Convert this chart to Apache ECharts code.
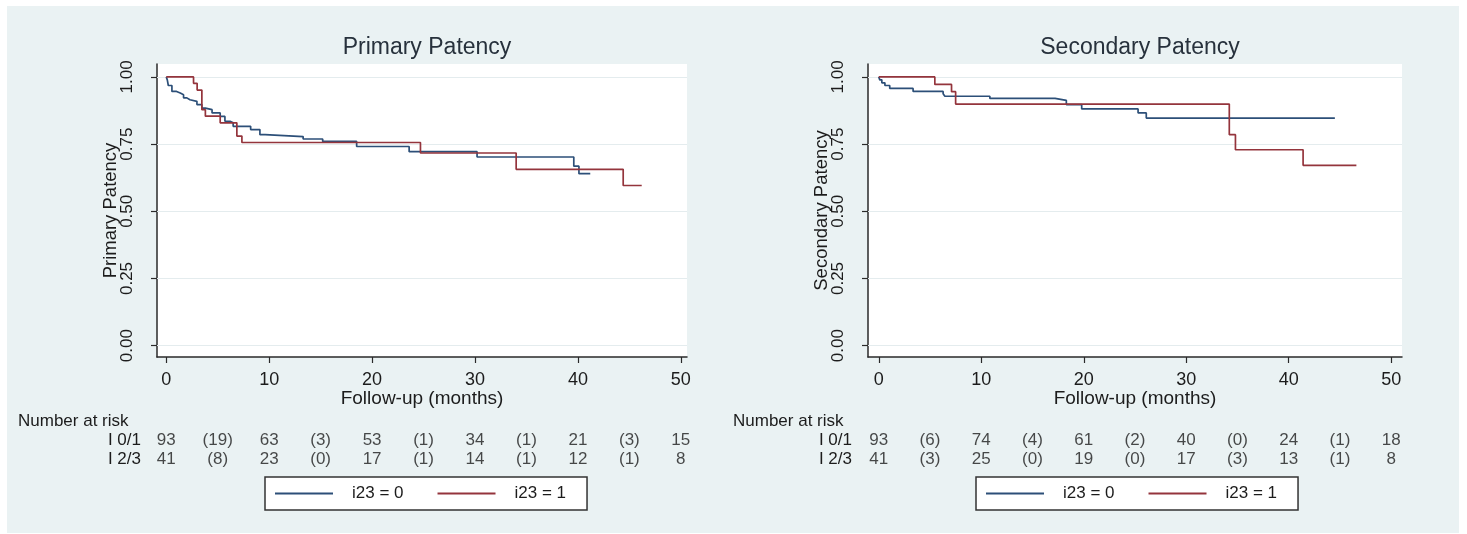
<!DOCTYPE html>
<html>
<head>
<meta charset="utf-8">
<script src="https://cdn.jsdelivr.net/npm/echarts@6/dist/echarts.min.js"></script>
<style>
  html, body { margin: 0; padding: 0; background: #ffffff; }
  #wrap { position: relative; width: 1467px; height: 534px; background: #ffffff; }
  #panel { position: absolute; left: 7px; top: 6px; width: 1452px; height: 527px; background: #eaf2f3; }
  #chart { position: absolute; left: 0; top: 0; width: 1467px; height: 534px; }
</style>
</head>
<body>
<div id="wrap">
  <div id="panel"></div>
  <div id="chart"></div>
</div>
<script>
// Kaplan–Meier estimates: [months, survival] at each event time, last point = end of follow-up
const primaryGroup0 = [[0,1],[0.1,0.989],[0.2,0.968],[0.55,0.946],[1.0,0.940],[1.36,0.934],[1.68,0.922],[2.0,0.915],[2.3,0.909],[2.98,0.897],[3.46,0.884],[3.8,0.878],[4.45,0.866],[5.24,0.853],[5.7,0.835],[6.2,0.829],[6.5,0.816],[8.2,0.804],[9.1,0.785],[9.6,0.778],[13.3,0.769],[15.2,0.760],[18.5,0.741],[23.6,0.722],[30.2,0.702],[39.6,0.668],[40.1,0.640],[41.2,0.640]];
const primaryGroup1 = [[0,1],[2.65,0.976],[3.0,0.951],[3.46,0.878],[3.8,0.854],[5.24,0.829],[6.86,0.780],[7.35,0.756],[24.7,0.717],[34.0,0.656],[44.4,0.596],[46.2,0.596]];
const secondaryGroup0 = [[0,1],[0.1,0.989],[0.3,0.978],[0.6,0.968],[1.07,0.957],[3.35,0.946],[6.28,0.937],[6.45,0.928],[10.84,0.920],[17.2,0.913],[18.3,0.897],[19.8,0.881],[25.3,0.866],[26.1,0.847],[44.5,0.847]];
const secondaryGroup1 = [[0,1],[5.47,0.972],[7.1,0.945],[7.5,0.899],[34.2,0.785],[34.8,0.729],[41.4,0.671],[46.6,0.671]];

// Number-at-risk table (counts at 0,10,...,50; censored in brackets between)
const riskTimes = [0, 10, 20, 30, 40, 50];
const censorTimes = [5, 15, 25, 35, 45];
const rowLabels = ['I 0/1', 'I 2/3'];
const primaryAtRisk0 = [93, 63, 53, 34, 21, 15];
const primaryCens0 = [19, 3, 1, 1, 3];
const primaryAtRisk1 = [41, 23, 17, 14, 12, 8];
const primaryCens1 = [8, 0, 1, 1, 1];
const secondaryAtRisk0 = [93, 74, 61, 40, 24, 18];
const secondaryCens0 = [6, 4, 2, 0, 1];
const secondaryAtRisk1 = [41, 25, 19, 17, 13, 8];
const secondaryCens1 = [3, 0, 0, 3, 1];

// Axis ticks
const xTicks = [0, 10, 20, 30, 40, 50];
const yTicks = [0, 0.25, 0.5, 0.75, 1];

const seriesNames = ['i23 = 0', 'i23 = 1'];
const titles = ['Primary Patency', 'Secondary Patency'];
const yTitles = ['Primary Patency', 'Secondary Patency'];
const xTitle = 'Follow-up (months)';
const riskTitle = 'Number at risk';

const FONT = "'Liberation Sans', Arial, sans-serif";
const TXT = '#1c1c1c';
const BLUE = '#2c4f78';
const RED = '#94343c';

const panels = [
  { left: 157, width: 530, top: 64, height: 293, xMin: -0.9, xMax: 50.6, yMin: -0.042, yMax: 1.048,
    curves: [primaryGroup0, primaryGroup1], risk: [[primaryAtRisk0, primaryCens0], [primaryAtRisk1, primaryCens1]],
    riskLeft: 13, legendLeft: 265 },
  { left: 868, width: 534, top: 64, height: 293, xMin: -1.05, xMax: 51.05, yMin: -0.042, yMax: 1.048,
    curves: [secondaryGroup0, secondaryGroup1], risk: [[secondaryAtRisk0, secondaryCens0], [secondaryAtRisk1, secondaryCens1]],
    riskLeft: 728, legendLeft: 976 }
];

const grid = [], xAxis = [], yAxis = [], series = [], title = [], legend = [];

panels.forEach((p, k) => {
  const plotIdx = grid.length;
  grid.push({ left: p.left, top: p.top, width: p.width, height: p.height, show: true,
    backgroundColor: '#ffffff', borderWidth: 0, containLabel: false });
  const riskIdx = grid.length;
  grid.push({ left: p.left, top: 431, width: p.width, height: 38, show: false, containLabel: false });

  xAxis.push({
    gridIndex: plotIdx, type: 'value', min: p.xMin, max: p.xMax,
    name: xTitle, nameLocation: 'middle', nameGap: 32, nameMoveOverlap: false,
    nameTextStyle: { fontFamily: FONT, fontSize: 19, color: TXT },
    axisLine: { show: true, onZero: false, lineStyle: { color: '#2a2a2a', width: 1.5 } },
    axisTick: { show: true, length: 6, customValues: xTicks, lineStyle: { color: '#2a2a2a', width: 1.2 } },
    axisLabel: { show: true, customValues: xTicks, margin: 14, fontFamily: FONT, fontSize: 18, color: TXT },
    splitLine: { show: false }
  });
  xAxis.push({ gridIndex: riskIdx, type: 'value', min: p.xMin, max: p.xMax, show: false });

  yAxis.push({
    gridIndex: plotIdx, type: 'value', min: p.yMin, max: p.yMax,
    name: yTitles[k], nameLocation: 'middle', nameGap: 37, nameRotate: 90, nameMoveOverlap: false,
    nameTextStyle: { fontFamily: FONT, fontSize: 18.5, color: TXT },
    axisLine: { show: true, onZero: false, lineStyle: { color: '#2a2a2a', width: 1.5 } },
    axisTick: { show: true, length: 6, customValues: yTicks, lineStyle: { color: '#2a2a2a', width: 1.2 } },
    axisLabel: { show: true, customValues: yTicks, rotate: 90, margin: 21, fontFamily: FONT, fontSize: 17, color: TXT,
      formatter: v => v.toFixed(2) },
    splitLine: { show: false }
  });
  yAxis.push({
    gridIndex: riskIdx, type: 'category', data: rowLabels, inverse: true,
    axisLine: { show: false }, axisTick: { show: false },
    axisLabel: { show: true, interval: 0, margin: 16, fontFamily: FONT, fontSize: 17, color: TXT }
  });

  const xa = xAxis.length - 2, ya = yAxis.length - 2;
  p.curves.forEach((c, g) => {
    const s = {
      name: seriesNames[g], type: 'line', step: 'end', data: c,
      xAxisIndex: xa, yAxisIndex: ya, showSymbol: false, symbol: 'none',
      lineStyle: { color: g === 0 ? BLUE : RED, width: 1.7 },
      itemStyle: { color: g === 0 ? BLUE : RED },
      z: 3, animation: false
    };
    if (g === 0) {
      s.markLine = {
        silent: true, symbol: 'none', animation: false, z: 1,
        label: { show: false },
        lineStyle: { color: '#e4ecee', width: 1.2, type: 'solid' },
        data: yTicks.map(v => ({ yAxis: v }))
      };
    }
    series.push(s);
  });

  p.risk.forEach(([counts, cens], row) => {
    series.push({
      type: 'scatter', xAxisIndex: xa + 1, yAxisIndex: ya + 1, symbolSize: 1, animation: false,
      itemStyle: { color: 'transparent' }, silent: true,
      data: riskTimes.map((t, i) => [t, row, counts[i]]),
      label: { show: true, position: 'inside', fontFamily: FONT, fontSize: 17, color: TXT,
        formatter: q => String(q.value[2]) }
    });
    series.push({
      type: 'scatter', xAxisIndex: xa + 1, yAxisIndex: ya + 1, symbolSize: 1, animation: false,
      itemStyle: { color: 'transparent' }, silent: true,
      data: censorTimes.map((t, i) => [t, row, cens[i]]),
      label: { show: true, position: 'inside', fontFamily: FONT, fontSize: 17, color: TXT,
        formatter: q => '(' + q.value[2] + ')' }
    });
  });

  title.push({
    text: titles[k], left: p.left + p.width / 2, top: 31, textAlign: 'center',
    textStyle: { fontFamily: FONT, fontSize: 23, fontWeight: 'normal', color: '#27313c' }
  });
  title.push({
    text: riskTitle, left: p.riskLeft, top: 408,
    textStyle: { fontFamily: FONT, fontSize: 17, fontWeight: 'normal', color: TXT }
  });

  legend.push({
    data: seriesNames, left: p.legendLeft, top: 477,
    icon: 'rect', itemWidth: 58, itemHeight: 2, itemGap: 34,
    backgroundColor: '#ffffff', borderColor: '#333333', borderWidth: 1.5, borderRadius: 0,
    padding: [8, 21, 8, 10],
    textStyle: { fontFamily: FONT, fontSize: 17, color: TXT, padding: [0, 0, 0, 14] },
    selectedMode: false
  });
});

const chart = echarts.init(document.getElementById('chart'), null, { renderer: 'canvas' });
chart.setOption({
  backgroundColor: 'transparent',
  animation: false,
  title, grid, xAxis, yAxis, series, legend
});
</script>
</body>
</html>
